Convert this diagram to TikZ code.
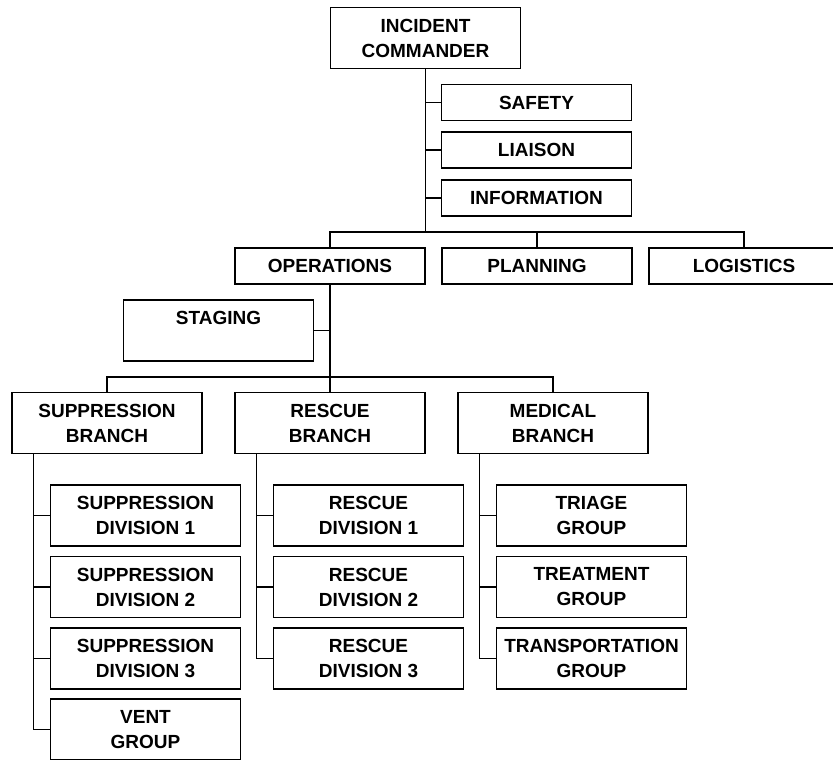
\documentclass[tikz,border=0pt]{standalone}
\usepackage{fontspec}
\setmainfont{Liberation Sans}
\usepackage{tikz}

\begin{document}
\begin{tikzpicture}[x=1pt, y=-1pt, line width=1.2pt,
  box/.style={draw, fill=white, align=center, inner sep=0pt, minimum width=190pt, minimum height=36pt,
    font=\fontsize{19pt}{25pt}\selectfont\bfseries},
  tall/.style={box, minimum height=61pt}]
  \useasboundingbox (0,0) rectangle (833,760);
  \clip (0,0) rectangle (833,760);
  \node[tall] (ic) at (425.5,38) {INCIDENT\\COMMANDER};
  \node[box] (safety) at (536.5,102.5) {SAFETY};
  \node[box] (liaison) at (536.5,150) {LIAISON};
  \node[box] (info) at (536.5,198) {INFORMATION};
  \node[box] (ops) at (330,266) {OPERATIONS};
  \node[box] (planning) at (537,266) {PLANNING};
  \node[box] (logistics) at (744,266) {LOGISTICS};
  \node[tall] (staging) at (218.5,330.5) {STAGING\\~};
  \node[tall] (sb) at (107,423) {SUPPRESSION\\BRANCH};
  \node[tall] (rb) at (330,423) {RESCUE\\BRANCH};
  \node[tall] (mb) at (553,423) {MEDICAL\\BRANCH};
  \foreach \i/\y in {1/515.5, 2/587, 3/658.5} {
    \node[tall] (sd\i) at (145.5,\y) {SUPPRESSION\\DIVISION \i};
    \node[tall] (rd\i) at (368.5,\y) {RESCUE\\DIVISION \i};
  }
  \node[tall] (sd4) at (145.5,729.5) {VENT\\GROUP};
  \node[tall] (mg1) at (591.5,515.5) {TRIAGE\\GROUP};
  \node[tall] (mg2) at (591.5,587) {TREATMENT\\GROUP};
  \node[tall] (mg3) at (591.5,658.5) {TRANSPORTATION\\GROUP};

  \coordinate (topbar) at (330,232);
  \coordinate (brbar) at (330,377);
  \draw (ic.south) -- (ic.south |- topbar);
  \foreach \n in {safety, liaison, info}
    \draw (\n.west) -- (\n.west -| ic.south);
  \draw (ops.north) -- (topbar) -| (logistics.north);
  \draw (planning.north) -- (planning.north |- topbar);
  \draw (ops.south) -- (rb.north);
  \draw (staging.east) -- (staging.east -| ops.south);
  \draw (sb.north) |- (brbar) -| (mb.north);
  \draw ([xshift=22pt]sb.south west) |- (sd4.west);
  \draw ([xshift=22pt]rb.south west) |- (rd3.west);
  \draw ([xshift=22pt]mb.south west) |- (mg3.west);
  \foreach \i in {1,2,3} {
    \draw (sd\i.west) -- ++(-16,0);
    \draw (rd\i.west) -- ++(-16,0);
    \draw (mg\i.west) -- ++(-16,0);
  }
\end{tikzpicture}
\end{document}
